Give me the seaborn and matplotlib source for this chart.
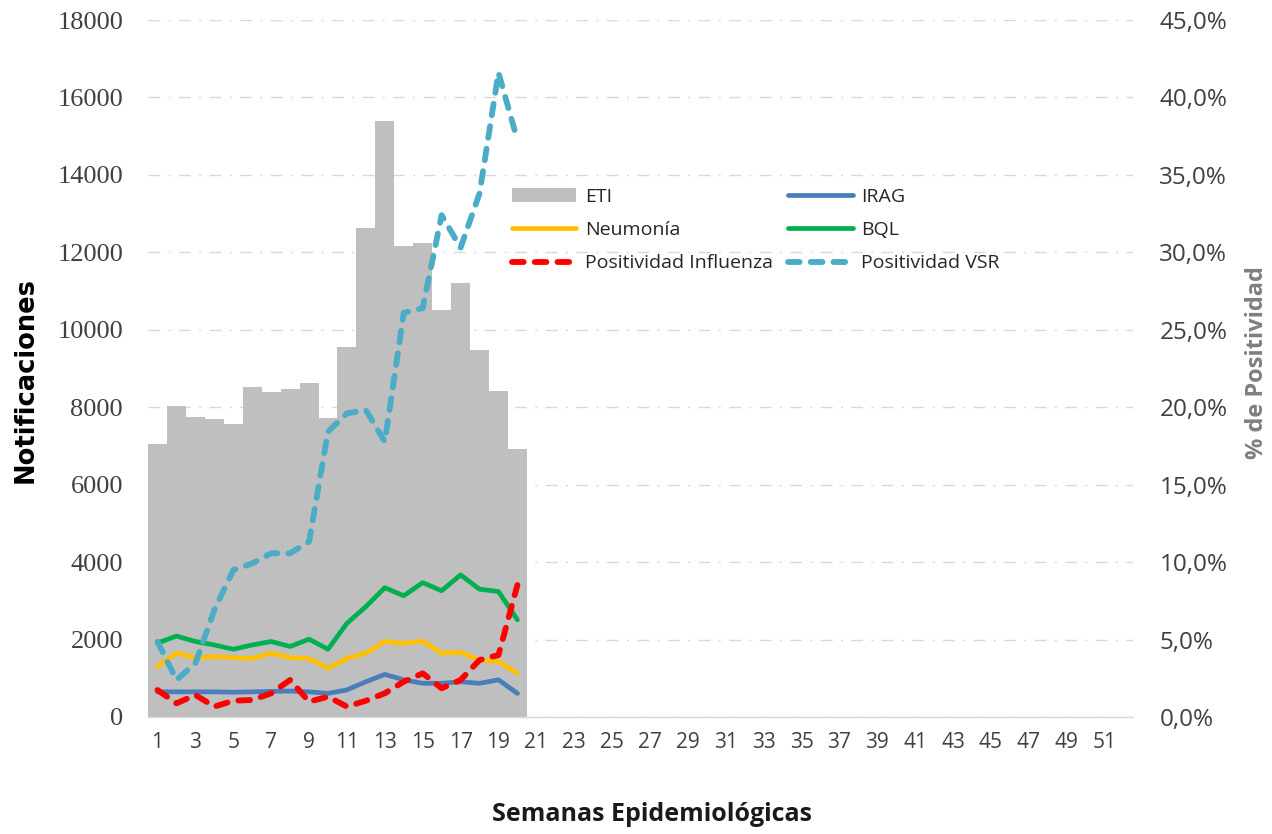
import matplotlib
matplotlib.use('Agg')

import matplotlib.pyplot as plt
import seaborn as sns
from matplotlib.ticker import FuncFormatter


# semanas epidemiologicas con datos
weeks = [1, 2, 3, 4, 5, 6, 7, 8, 9, 10,
         11, 12, 13, 14, 15, 16, 17, 18, 19, 20]

# notificaciones
eti = [7050, 8020, 7750, 7700, 7570, 8530, 8400, 8480, 8630, 7730,
       9560, 12640, 15400, 12170, 12250, 10520, 11210, 9480, 8420, 6920]
irag = [650, 650, 650, 650, 640, 650, 660, 670, 650, 610,
        700, 910, 1100, 960, 870, 870, 910, 870, 960, 610]
neumonia = [1300, 1650, 1530, 1560, 1530, 1510, 1650, 1530, 1510, 1260,
            1510, 1650, 1950, 1900, 1960, 1650, 1670, 1470, 1430, 1130]
bql = [1910, 2090, 1950, 1860, 1750, 1860, 1950, 1820, 2010, 1750,
       2420, 2850, 3340, 3130, 3470, 3260, 3670, 3300, 3240, 2510]

# positividad (%)
pos_flu = [1.74, 0.88, 1.42, 0.67, 1.05, 1.10, 1.53, 2.39, 0.99, 1.31,
           0.67, 1.05, 1.53, 2.28, 2.82, 1.85, 2.39, 3.68, 4.00, 8.52]
pos_vsr = [4.86, 2.39, 3.47, 6.91, 9.49, 9.92, 10.57, 10.57, 11.32, 18.42,
           19.60, 19.82, 17.77, 26.10, 26.40, 32.40, 30.30, 33.80, 41.60, 37.25]

x_ticks = list(range(1, 52, 2))
x_tick_labels = [str(w) for w in x_ticks]
left_ticks = list(range(0, 18001, 2000))
right_ticks = list(range(0, 46, 5))


sns.set_style("white")
plt.rcParams['font.family'] = ['Open Sans', 'DejaVu Sans']

fig = plt.figure(figsize=(12.72, 8.34), dpi=100)
ax = fig.add_axes([0.1164, 0.1403, 0.7743, 0.8357])

sns.barplot(
    x=weeks,
    y=eti,
    native_scale=True,
    width=1,
    color="#bfbfbf",
    saturation=1,
    errorbar=None,
    linewidth=0,
    ax=ax
)
h_eti = ax.patches[0]

series_left = [
    (irag, "#4a7ebb", "IRAG"),
    (neumonia, "#ffc000", "Neumonía"),
    (bql, "#00b050", "BQL"),
]
left_lines = {}
for values, col, name in series_left:
    sns.lineplot(x=weeks, y=values, color=col, linewidth=3.4, ax=ax)
    line = ax.lines[-1]
    line.set_solid_joinstyle("round")
    line.set_solid_capstyle("round")
    left_lines[name] = line

ax.set_xlim(0.5, 52.5)
ax.set_ylim(0, 18000)
ax.set_yticks(left_ticks)
ax.set_xticks(x_ticks)
ax.set_xticklabels(x_tick_labels)

ax2 = ax.twinx()
series_right = [
    (pos_flu, "#ff0000", "Positividad Influenza"),
    (pos_vsr, "#4bacc6", "Positividad VSR"),
]
right_lines = {}
for values, col, name in series_right:
    sns.lineplot(x=weeks, y=values, color=col, linewidth=4.2, ax=ax2)
    line = ax2.lines[-1]
    line.set_linestyle((0, (2.0, 1.9)))
    line.set_dash_capstyle("round")
    line.set_dash_joinstyle("round")
    right_lines[name] = line

ax2.set_ylim(0, 45)
ax2.set_yticks(right_ticks)
ax2.yaxis.set_major_formatter(
    FuncFormatter(lambda v, p: f"{v:.1f}%".replace(".", ","))
)

# grid
ax.set_axisbelow(True)
ax.yaxis.grid(True, color="#d9d9d9", linestyle=(0, (8.5, 6, 1.5, 6)), linewidth=1)
ax.xaxis.grid(False)
ax2.grid(False)

for a in (ax, ax2):
    for s in ("left", "right", "top"):
        a.spines[s].set_visible(False)
    a.spines["bottom"].set_color("#d9d9d9")
    a.spines["bottom"].set_linewidth(1)
ax2.spines["bottom"].set_visible(False)

ax.tick_params(axis="y", length=0, pad=18, labelsize=19,
               labelcolor="#404040", labelfontfamily="Liberation Serif")
ax.tick_params(axis="x", length=0, pad=11, labelsize=15, labelcolor="#404040")
ax2.tick_params(axis="y", length=0, pad=19, labelsize=17.5, labelcolor="#404040")

ax.set_xlabel("Semanas Epidemiológicas", fontsize=18, fontweight="bold",
              color="#1a1a1a", va="center")
ax.xaxis.set_label_coords(0.5117, -0.1406)
ax.set_ylabel("Notificaciones", fontsize=18.5, fontweight="bold",
              family="DejaVu Sans", color="black", va="center")
ax.yaxis.set_label_coords(-0.1239, 0.4835)
ax2.set_ylabel("% de Positividad", fontsize=17, fontweight="bold",
               color="#7f7f7f", va="center", rotation=90)
ax2.yaxis.set_label_coords(1.1259, 0.508)

handles = [h_eti, left_lines["Neumonía"], right_lines["Positividad Influenza"],
           left_lines["IRAG"], left_lines["BQL"], right_lines["Positividad VSR"]]
labels = ["ETI", "Neumonía", "Positividad Influenza",
          "IRAG", "BQL", "Positividad VSR"]
for a in (ax, ax2):
    if a.get_legend() is not None:
        a.get_legend().remove()
fig.legend(
    handles,
    labels,
    loc="upper left",
    bbox_to_anchor=(0.4025, 0.7746),
    ncol=2,
    frameon=False,
    fontsize=14,
    labelcolor="#262626",
    handlelength=3.3,
    handletextpad=0.45,
    columnspacing=0.8,
    labelspacing=0.78,
    borderpad=0,
    borderaxespad=0
)

plt.savefig("out.png", dpi=100)
plt.close()
